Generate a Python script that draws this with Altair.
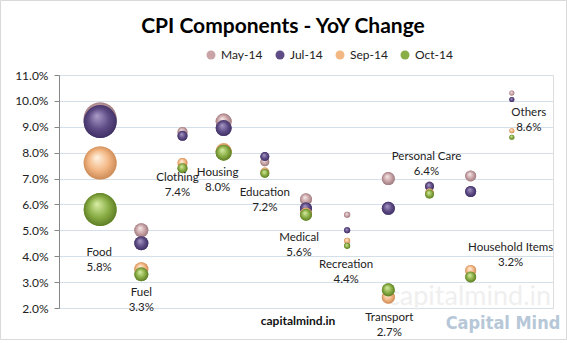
import altair as alt
import pandas as pd

# ---------------- data ----------------
categories = ["Food", "Fuel", "Clothing", "Housing", "Education", "Medical",
              "Recreation", "Transport", "Personal Care", "Household Items", "Others"]
may_14 = [9.3, 5.0, 8.8, 9.2, 7.65, 6.2, 5.6, 7.0, 6.7, 7.1, 10.3]
jul_14 = [9.2, 4.5, 8.65, 8.95, 7.85, 5.85, 5.0, 5.85, 6.7, 6.5, 10.05]
sep_14 = [7.6, 3.5, 7.6, 8.05, 7.25, 5.65, 4.6, 2.42, 6.45, 3.45, 8.85]
oct_14 = [5.8, 3.3, 7.4, 8.0, 7.2, 5.6, 4.4, 2.7, 6.4, 3.2, 8.6]
weights = [47.6, 8.6, 4.4, 11.2, 3.5, 6.3, 1.6, 7.4, 3.5, 5.3, 1.1]
series_names = ["May-14", "Jul-14", "Sep-14", "Oct-14"]
y_ticks = [2, 3, 4, 5, 6, 7, 8, 9, 10, 11]

# ---------------- styles ----------------
series_colors = ["#c9a3a6", "#5f4c86", "#f3b784", "#8aae46"]
series_grad = {
    "May-14": ["#f5e6e6", "#c9a3a6", "#94737a"],
    "Jul-14": ["#a698c4", "#5f4c86", "#3a2c5e"],
    "Sep-14": ["#fff0de", "#f3b784", "#c4834f"],
    "Oct-14": ["#d4eaa0", "#8aae46", "#56741f"],
}
# label offsets (px) of first text line relative to the Oct bubble
label_offsets = {
    "Food": (-1, 37), "Fuel": (0, 13), "Clothing": (-5, 4), "Housing": (-6, 14),
    "Education": (0, 14), "Medical": (-7, 17), "Recreation": (-1, 13),
    "Transport": (1, 22), "Personal Care": (-3, -43), "Household Items": (40, -35),
    "Others": (17, -30),
}
FONT = "Lato"
TXT = "#222222"

rows = []
for i, c in enumerate(categories):
    for s, vals in zip(series_names, [may_14, jul_14, sep_14, oct_14]):
        rows.append(dict(category=c, pos=i + 1, series=s, value=vals[i], weight=weights[i]))
df = pd.DataFrame(rows)

lab = pd.DataFrame(dict(category=categories, pos=list(range(1, len(categories) + 1)),
                        value=oct_14,
                        label=[f"{c}\n{v:.1f}%" for c, v in zip(categories, oct_14)]))

x_enc = alt.X("pos:Q", scale=alt.Scale(domain=[0, 12], nice=False, zero=False), axis=None)
y_enc = alt.Y("value:Q",
              scale=alt.Scale(domain=[2, 11], nice=False, zero=False),
              axis=alt.Axis(values=y_ticks, title=None,
                            labelExpr="format(datum.value, '.1f') + '%'",
                            labelFont=FONT, labelFontSize=12, labelColor=TXT,
                            labelPadding=6, tickSize=5, tickColor="#868686",
                            domainColor="#868686", gridColor="#d5dfea",
                            gridWidth=1))
size_enc = alt.Size("weight:Q", scale=alt.Scale(type="linear", domain=[0, 47.6], range=[0, 1089]),
                    legend=None)

# watermark (faint) and border
faint = alt.Chart(pd.DataFrame({"t": ["capitalmind.in"]})).mark_text(
    font=FONT, fontSize=27, color="#efefef", align="center", baseline="middle"
).encode(x=alt.value(410), y=alt.value(222), text="t:N")

brand = alt.Chart(pd.DataFrame({"t": ["Capital Mind"]})).mark_text(
    font="'Liberation Sans Narrow', 'DejaVu Sans Condensed', 'Roboto', sans-serif",
    fontSize=18, fontWeight="bold", color="#b6c7d8",
    align="center", baseline="middle"
).encode(x=alt.value(444), y=alt.value(249), text="t:N")

site = alt.Chart(pd.DataFrame({"t": ["capitalmind.in"]})).mark_text(
    font=FONT, fontSize=12, fontWeight="bold", color="#111111",
    align="center", baseline="middle"
).encode(x=alt.value(239), y=alt.value(246), text="t:N")

border = alt.Chart(pd.DataFrame({"a": [0]})).mark_rect(
    fillOpacity=0, stroke="#d9d9d9", strokeWidth=1
).encode(x=alt.value(-58.5), x2=alt.value(507.5), y=alt.value(-74.5), y2=alt.value(264.5))

base = alt.Chart(df).mark_circle(opacity=1, strokeWidth=0).encode(
    x=x_enc, y=y_enc, size=size_enc,
    color=alt.Color("series:N",
                    scale=alt.Scale(domain=series_names, range=series_colors),
                    legend=alt.Legend(title=None, orient="none", legendX=146, legendY=-26,
                                      direction="horizontal", symbolType="circle",
                                      symbolSize=81, symbolStrokeWidth=0,
                                      labelFont=FONT, labelFontSize=12, labelColor=TXT,
                                      columnPadding=11, labelOffset=4, padding=0)),
)

layers = [faint, brand, base]
for s in series_names:
    hi, mid, lo = series_grad[s]
    grad = alt.RadialGradient(
        gradient="radial",
        stops=[alt.GradientStop(color=hi, offset=0),
               alt.GradientStop(color=mid, offset=0.55),
               alt.GradientStop(color=lo, offset=1)],
        x1=0.4, y1=0.33, r1=0.02, x2=0.5, y2=0.5, r2=0.55,
    )
    layers.append(
        alt.Chart(df[df.series == s]).mark_circle(opacity=1, color=grad, strokeWidth=0).encode(
            x=x_enc, y=y_enc, size=size_enc)
    )

for c in categories:
    dx, dy = label_offsets[c]
    layers.append(
        alt.Chart(lab[lab.category == c]).mark_text(
            font=FONT, fontSize=11.5, color=TXT, align="center", baseline="top",
            lineBreak="\n", lineHeight=15, dx=dx, dy=dy
        ).encode(x=x_enc, y=y_enc, text="label:N")
    )

layers += [site, border]

chart = alt.layer(*layers).properties(
    width=494, height=233,
    padding={"left": 59, "top": 75, "right": 14, "bottom": 35},
    autosize=alt.AutoSizeParams(type="none"),
    title=alt.TitleParams("CPI Components - YoY Change", font=FONT, fontSize=21,
                          fontWeight="bold", color="black", anchor="middle",
                          frame="group", dx=-23, offset=-54, baseline="alphabetic"),
).configure_view(stroke=None).configure(background="white")

chart.save("out.html", embed_options={"renderer": "svg", "actions": False})
